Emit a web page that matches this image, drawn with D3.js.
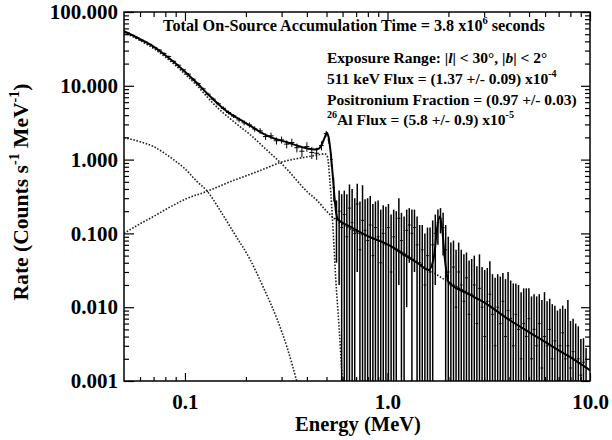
<!DOCTYPE html>
<html>
<head>
<meta charset="utf-8">
<script src="https://cdn.jsdelivr.net/npm/d3@7"></script>
<style>
body{margin:0;background:#fff}
svg{display:block}
text{font-family:"Liberation Serif","Times New Roman",serif;font-weight:bold;fill:#000}
</style>
</head>
<body>
<div id="graph"></div>
<script>
// measured spectrum below 0.55 MeV (energy MeV, rate, 1 sigma)
var loE = [0.052,0.055,0.058,0.061,0.064,0.067,0.071,0.075,0.079,0.083,0.088,0.093,0.098,0.104,0.110,0.116,
  0.123,0.130,0.138,0.146,0.155,0.164,0.174,0.185,0.196,0.208,0.221,0.235,0.250,0.266,0.283,0.300,0.318,
  0.337,0.357,0.378,0.400,0.423,0.447,0.472,0.498,0.513,0.528,0.543];
var loRate = [52,48.5,45,41.5,39,36.5,33,30.5,27.5,25,21.5,19,16.5,14.4,12.3,10.7,
  9.1,7.7,6.6,5.7,4.95,4.35,3.9,3.45,3.15,2.95,2.6,2.45,2.05,2.1,1.8,1.85,1.62,
  1.70,1.45,1.30,1.50,1.25,1.22,1.55,2.25,1.85,1.0,0.42];
var loErr = [1.0,1.0,1.0,0.9,0.9,0.8,0.8,0.7,0.7,0.6,0.6,0.5,0.5,0.5,0.4,0.4,
  0.35,0.35,0.3,0.3,0.28,0.26,0.25,0.25,0.24,0.24,0.22,0.22,0.2,0.22,0.2,0.2,0.2,
  0.22,0.2,0.22,0.22,0.23,0.23,0.22,0.2,0.2,0.2,0.15];

// measured spectrum above 0.55 MeV
var hiE = [0.560,0.577,0.594,0.612,0.630,0.649,0.669,0.689,0.709,0.731,0.753,0.775,0.798,0.822,0.847,0.872,
  0.899,0.926,0.953,0.982,1.011,1.042,1.073,1.105,1.138,1.172,1.208,1.244,1.281,1.320,1.359,1.400,1.442,
  1.485,1.530,1.576,1.623,1.672,1.722,1.774,1.827,1.882,1.938,1.996,2.056,2.118,2.181,2.247,2.314,2.384,
  2.455,2.529,2.605,2.683,2.763,2.846,2.932,3.020,3.110,3.203,3.300,3.399,3.501,3.606,3.714,3.825,3.940,
  4.058,4.180,4.305,4.435,4.568,4.705,4.846,4.991,5.141,5.295,5.454,5.618,5.786,5.960,6.139,6.323,6.513,
  6.708,6.909,7.117,7.330,7.550,7.777,8.010,8.250,8.498,8.753,9.015,9.286,9.564];
var hiRate = [0.16,0.20,0.12,0.18,0.09,0.22,0.14,0.10,0.25,0.06,0.15,0.11,0.08,0.13,0.05,0.12,
  0.09,0.04,0.10,0.07,0.12,0.03,0.09,0.06,0.16,0.08,0.05,0.11,0.13,0.10,0.12,0.07,0.04,
  0.06,0.02,0.05,0.03,0.07,0.10,0.14,0.16,0.12,0.06,0.03,0.02,0.035,0.01,0.03,0.02,0.012,
  0.025,0.008,0.015,0.02,0.006,0.018,0.01,0.004,0.012,0.015,0.008,0.003,0.01,0.006,0.012,0.004,0.009,
  0.007,0.003,0.008,0.005,0.002,0.006,0.004,0.007,0.002,0.005,0.003,0.006,0.0015,0.004,0.003,0.005,0.002,
  0.0035,0.001,0.003,0.0045,0.002,0.003,0.0015,0.0025,0.001,0.002,0.0012,0.0018,0.001];
var hiErr = [0.12,0.18,0.22,0.20,0.25,0.24,0.26,0.20,0.22,0.21,0.30,0.18,0.22,0.19,0.20,0.15,
  0.19,0.17,0.14,0.16,0.13,0.15,0.12,0.14,0.14,0.11,0.12,0.10,0.09,0.11,0.09,0.10,0.09,
  0.07,0.08,0.07,0.09,0.08,0.08,0.07,0.06,0.07,0.07,0.06,0.055,0.045,0.05,0.045,0.04,0.04,
  0.03,0.035,0.03,0.03,0.03,0.034,0.025,0.028,0.022,0.027,0.02,0.022,0.018,0.02,0.017,0.02,0.021,
  0.016,0.018,0.013,0.015,0.014,0.012,0.014,0.011,0.012,0.01,0.011,0.009,0.011,0.012,0.009,0.008,0.009,
  0.007,0.008,0.0065,0.006,0.0075,0.0095,0.005,0.0045,0.005,0.0035,0.0025,0.002,0.0018];

// total model (solid)
var modelE = [0.05,0.06,0.07,0.08,0.09,0.1,0.115,0.133,0.15,0.167,0.19,0.209,0.243,0.28,0.319,0.357,0.4,0.44,
  0.46,0.475,0.49,0.502,0.512,0.525,0.537,0.548,0.558,0.57,0.65,0.8,1.0,1.2,1.4,1.6,1.7,1.76,1.81,1.86,1.92,
  2.0,2.5,3.0,4.0,5.0,6.0,7.0,8.0,9.0,10.0];
var modelRate = [55,43,34,26,20,15.5,10.8,7.2,5.3,4.2,3.4,2.9,2.25,1.9,1.72,1.55,1.42,1.37,
  1.42,1.62,2.0,2.32,2.0,1.2,0.6,0.3,0.19,0.155,0.125,0.092,0.071,0.052,0.040,0.032,0.05,0.12,0.17,0.12,0.045,
  0.022,0.0152,0.0116,0.0067,0.0046,0.0034,0.0026,0.0021,0.0017,0.0014];

// model components (dotted)
var contE = [0.05,0.06,0.07,0.08,0.09,0.1,0.115,0.133,0.15,0.167,0.19,0.209,0.243,0.28,0.319,0.357,0.4,0.449,
  0.5,0.56,0.7,1.0,2.0,3.0,4.0,6.0,8.0,10.0];
var contRate = [53,41,32,24.5,18.8,14.4,10,6.4,4.6,3.6,2.7,2.2,1.5,1.05,0.74,0.52,0.37,0.28,
  0.2,0.15,0.105,0.071,0.022,0.0116,0.0067,0.0034,0.0021,0.0014];
var expE = [0.05,0.06,0.07,0.08,0.09,0.1,0.115,0.128,0.15,0.175,0.209,0.245,0.285,0.32,0.36];
var expRate = [1.98,1.75,1.5,1.2,0.95,0.75,0.5,0.38,0.2,0.1,0.045,0.018,0.0069,0.0028,0.0009];
var psE = [0.05,0.06,0.07,0.08,0.09,0.1,0.128,0.167,0.209,0.25,0.294,0.35,0.41,0.463,0.49,0.505,0.52,0.54,
  0.555,0.575,0.6];
var psRate = [0.1,0.135,0.17,0.21,0.25,0.29,0.37,0.5,0.63,0.76,0.91,1.02,1.1,1.17,1.2,1.1,0.5,0.1,
  0.025,0.006,0.0009];

var xMajor = [0.1, 1, 10];
var xMinor = [0.06,0.07,0.08,0.09,0.2,0.3,0.4,0.5,0.6,0.7,0.8,0.9,2,3,4,5,6,7,8,9];
var yMajor = [0.001, 0.01, 0.1, 1, 10, 100];
var yMinor = [];
[0.001,0.01,0.1,1,10].forEach(function(d){ for(var k=2;k<10;k++) yMinor.push(+(d*k).toPrecision(3)); });

var width = 612, height = 440;
var pLeft = 124, pRight = 590, pTop = 12, pBottom = 381;

var x = d3.scaleLog().domain([0.05, 10]).range([pLeft, pRight]);
var y = d3.scaleLog().domain([0.001, 100]).range([pBottom, pTop]);

var svg = d3.select('#graph').append('svg').attr('width', width).attr('height', height);

svg.append('clipPath').attr('id', 'plot')
  .append('rect').attr('x', pLeft).attr('y', pTop).attr('width', pRight-pLeft).attr('height', pBottom-pTop);

var plot = svg.append('g').attr('clip-path', 'url(#plot)');

// dotted model components
var line = d3.line().x(function(d){return x(d[0])}).y(function(d){return y(d[1])}).curve(d3.curveMonotoneX);
[[contE, contRate], [expE, expRate], [psE, psRate]].forEach(function(c){
  plot.append('path')
    .datum(c[0].map(function(e, i){ return [e, c[1][i]]; }))
    .attr('d', line)
    .attr('fill', 'none').attr('stroke', '#222').attr('stroke-width', 1.6)
    .attr('stroke-dasharray', '1.6,1.6');
});

// high energy data bars
var floorY = 0.001;
hiE.forEach(function(e, i){
  var lo = hiRate[i] - hiErr[i], hi = hiRate[i] + hiErr[i];
  plot.append('line')
    .attr('x1', x(e)).attr('x2', x(e))
    .attr('y1', lo > floorY ? y(lo) : pBottom + 2).attr('y2', y(hi))
    .attr('stroke', '#000').attr('stroke-width', 1.5);
  plot.append('line')
    .attr('x1', x(e) - 1.4).attr('x2', x(e) + 1.4)
    .attr('y1', y(hiRate[i])).attr('y2', y(hiRate[i]))
    .attr('stroke', '#000').attr('stroke-width', 1);
});

// low energy data crosses
loE.forEach(function(e, i){
  var eLo = i > 0 ? Math.sqrt(e*loE[i-1]) : e / Math.sqrt(loE[1]/loE[0]);
  var eHi = i < loE.length-1 ? Math.sqrt(e*loE[i+1]) : e * Math.sqrt(e/loE[i-1]);
  plot.append('line')
    .attr('x1', x(e)).attr('x2', x(e))
    .attr('y1', y(loRate[i]-loErr[i])).attr('y2', y(loRate[i]+loErr[i]))
    .attr('stroke', '#000').attr('stroke-width', 1);
  plot.append('line')
    .attr('x1', x(eLo)).attr('x2', x(eHi))
    .attr('y1', y(loRate[i])).attr('y2', y(loRate[i]))
    .attr('stroke', '#000').attr('stroke-width', 1);
});

// total model
plot.append('path')
  .datum(modelE.map(function(e, i){ return [e, modelRate[i]]; }))
  .attr('d', line)
  .attr('fill', 'none').attr('stroke', '#000').attr('stroke-width', 2);

// axes, ticks inward on all four sides
var yFmt = d3.format('.3f'), xFmt = d3.format('.1f');
function styleAxis(g){ g.select('.domain').remove(); g.selectAll('line').attr('stroke', '#000').attr('stroke-width', 1.2); }

svg.append('g').attr('transform', 'translate(0,'+pBottom+')')
  .call(d3.axisBottom(x).tickValues(xMajor).tickSize(-8).tickPadding(13).tickFormat(xFmt))
  .call(styleAxis).selectAll('text').style('font-size', '21px').style('font-family', null);
svg.append('g').attr('transform', 'translate(0,'+pBottom+')')
  .call(d3.axisBottom(x).tickValues(xMinor).tickSize(-4).tickFormat('')).call(styleAxis);
svg.append('g').attr('transform', 'translate(0,'+pTop+')')
  .call(d3.axisTop(x).tickValues(xMajor).tickSize(-9).tickFormat('')).call(styleAxis);
svg.append('g').attr('transform', 'translate(0,'+pTop+')')
  .call(d3.axisTop(x).tickValues(xMinor).tickSize(-5).tickFormat('')).call(styleAxis);

svg.append('g').attr('transform', 'translate('+pLeft+',0)')
  .call(d3.axisLeft(y).tickValues(yMajor).tickSize(-10).tickPadding(6).tickFormat(yFmt))
  .call(styleAxis).selectAll('text').style('font-size', '21px').style('font-family', null);
svg.append('g').attr('transform', 'translate('+pLeft+',0)')
  .call(d3.axisLeft(y).tickValues(yMinor).tickSize(-5).tickFormat('')).call(styleAxis);
svg.append('g').attr('transform', 'translate('+pRight+',0)')
  .call(d3.axisRight(y).tickValues(yMajor).tickSize(-9).tickFormat('')).call(styleAxis);
svg.append('g').attr('transform', 'translate('+pRight+',0)')
  .call(d3.axisRight(y).tickValues(yMinor).tickSize(-5).tickFormat('')).call(styleAxis);

svg.selectAll('.tick text').attr('fill', '#000');

svg.append('rect').attr('x', pLeft).attr('y', pTop).attr('width', pRight-pLeft).attr('height', pBottom-pTop)
  .attr('fill', 'none').attr('stroke', '#000').attr('stroke-width', 1.5);

// text with superscripts: parts = [[string, 'n'|'s'|'i']]
function richText(px, py, parts, fs, anchor, transform){
  var t = svg.append('text').attr('x', px).attr('y', py).style('font-size', fs+'px')
    .attr('text-anchor', anchor || 'start');
  if(transform) t.attr('transform', transform);
  var shift = 0;
  parts.forEach(function(p){
    var s = t.append('tspan').text(p[0]);
    if(p[1] === 's'){
      s.style('font-size', (fs*0.65)+'px').attr('dy', -fs*0.42 - shift);
      shift = -fs*0.42;
    } else {
      if(shift !== 0){ s.attr('dy', -shift); shift = 0; }
      if(p[1] === 'i') s.style('font-style', 'italic');
    }
  });
  return t;
}
function fitSize(parts, target){
  var t = richText(0, -50, parts, 14);
  var w = t.node().getComputedTextLength();
  t.remove();
  return 14 * target / w;
}

var title = [['Total On-Source Accumulation Time = 3.8 x10','n'],['6','s'],[' seconds','n']];
richText(354, 31, title, fitSize(title, 382), 'middle');

var info = [
  [['Exposure Range: |','n'],['l','i'],['| < 30°, |','n'],['b','i'],['| < 2°','n']],
  [['511 keV Flux = (1.37 +/- 0.09) x10','n'],['-4','s']],
  [['Positronium Fraction = (0.97 +/- 0.03)','n']],
  [['26','s'],['Al Flux = (5.8 +/- 0.9) x10','n'],['-5','s']]
];
var infoSize = fitSize(info[2], 250);
var infoY = [63, 84, 105, 125];
info.forEach(function(p, i){ richText(327, infoY[i], p, infoSize, 'start'); });

var xTitle = [['Energy (MeV)','n']];
richText(358, 431, xTitle, fitSize(xTitle, 126), 'middle');
var yTitle = [['Rate (Counts s','n'],['-1','s'],[' MeV','n'],['-1','s'],[')','n']];
richText(0, 0, yTitle, fitSize(yTitle, 217), 'middle', 'translate(28,192) rotate(-90)');
</script>
</body>
</html>
